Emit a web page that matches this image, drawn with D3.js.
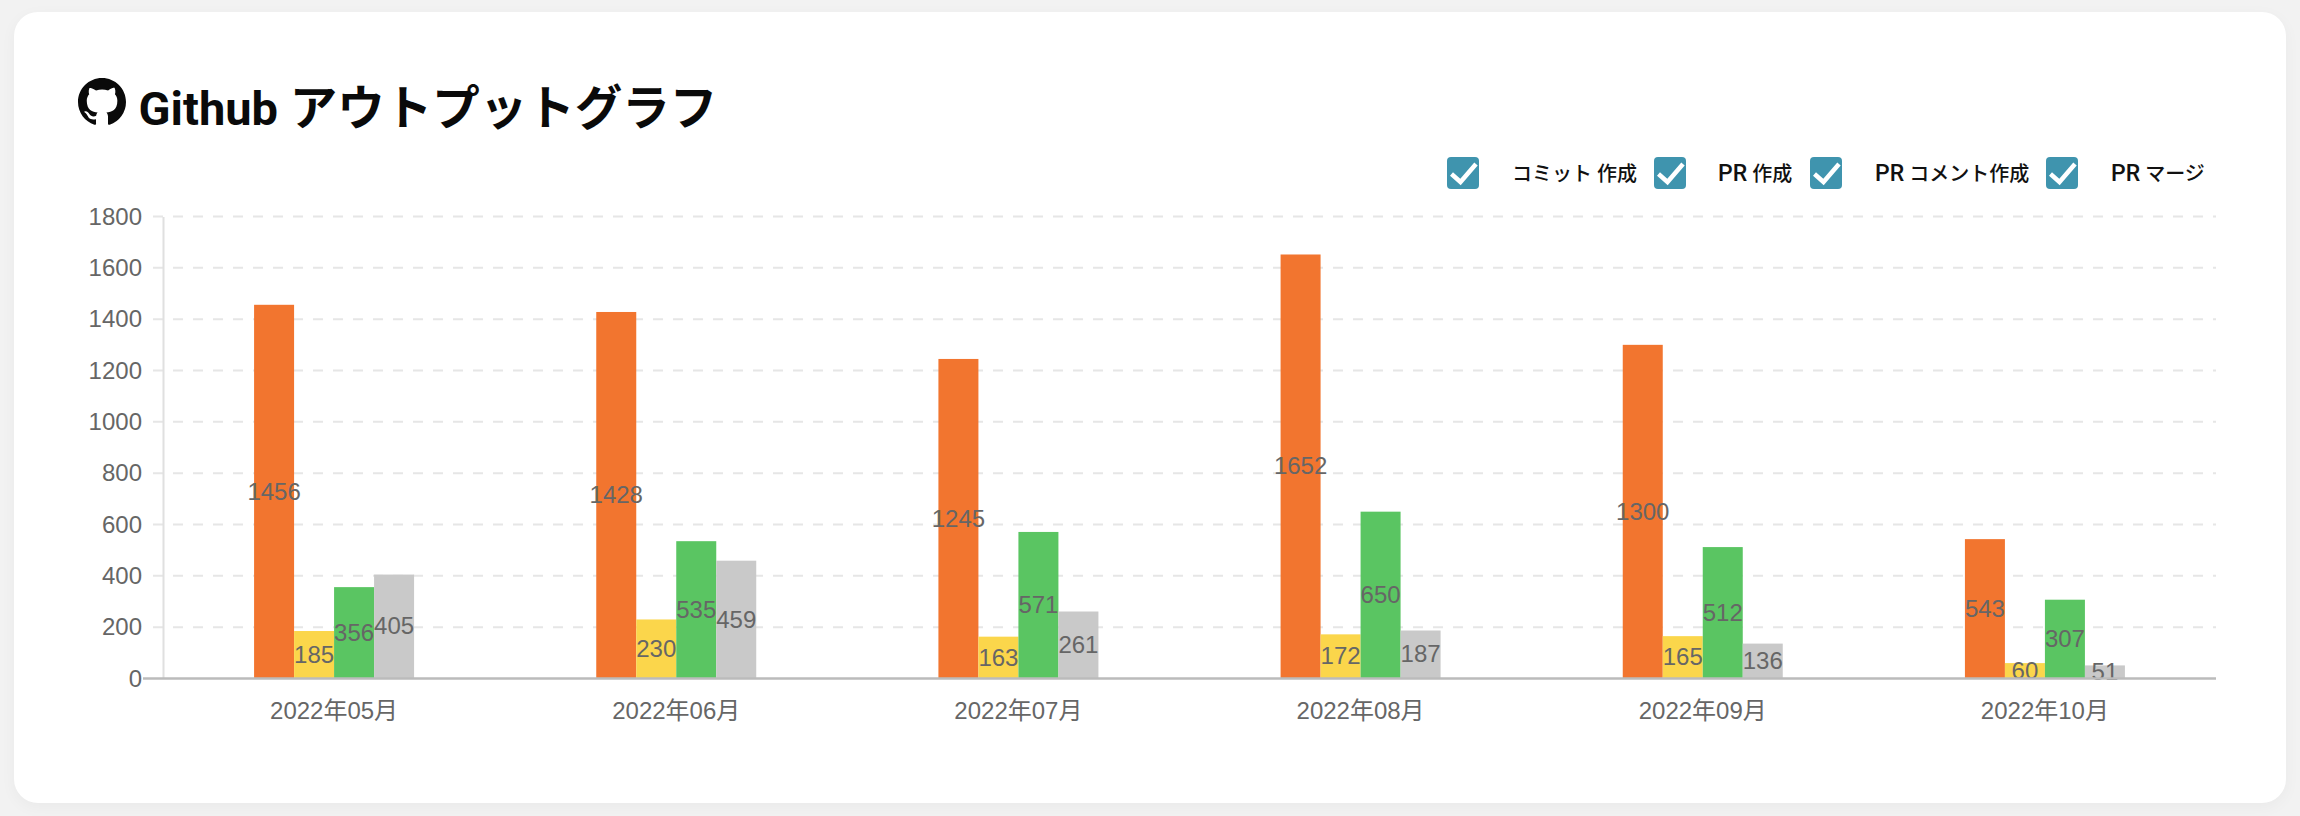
<!DOCTYPE html>
<html lang="ja">
<head>
<meta charset="utf-8">
<title>Github アウトプットグラフ</title>
<script src="https://cdn.jsdelivr.net/npm/d3@7/dist/d3.min.js"></script>
<style>
  html, body { margin: 0; padding: 0; width: 2300px; height: 816px; overflow: hidden; background: #f2f2f2; }
  #card { position: absolute; left: 14px; top: 12px; width: 2272px; height: 791px; background: #fff; border-radius: 24px; box-shadow: 0 4px 16px rgba(0,0,0,.04); }
  svg { position: absolute; left: 0; top: 0; }
  text { font-family: "Liberation Sans", "Noto Sans CJK JP", sans-serif; }
</style>
</head>
<body>
<div id="card"></div>
<svg id="chart" width="2300" height="816"></svg>
<script>
// Monthly GitHub activity, one list per series
const months = ["2022年05月", "2022年06月", "2022年07月", "2022年08月", "2022年09月", "2022年10月"];
const commits = [1456, 1428, 1245, 1652, 1300, 543];
const pullRequests = [185, 230, 163, 172, 165, 60];
const prComments = [356, 535, 571, 650, 512, 307];
const prMerges = [405, 459, 261, 187, 136, 51];
const yTicks = [0, 200, 400, 600, 800, 1000, 1200, 1400, 1600, 1800];
const seriesNames = ["コミット 作成", "PR 作成", "PR コメント作成", "PR マージ"];
const seriesColors = ["#f2752f", "#fbd64b", "#5ac562", "#c9c9c9"];
const seriesValues = [commits, pullRequests, prComments, prMerges];
const titleLatin = "Github";
const titleKana = " アウトプットグラフ";
const githubMark = "M8 0C3.58 0 0 3.58 0 8c0 3.54 2.29 6.53 5.47 7.59.4.07.55-.17.55-.38 0-.19-.01-.82-.01-1.49-2.01.37-2.53-.49-2.69-.94-.09-.23-.48-.94-.82-1.13-.28-.15-.68-.52-.01-.53.63-.01 1.08.58 1.23.82.72 1.21 1.87.87 2.33.66.07-.52.28-.87.51-1.07-1.78-.2-3.64-.89-3.64-3.95 0-.87.31-1.59.82-2.15-.08-.2-.36-1.02.08-2.12 0 0 .67-.21 2.2.82.64-.18 1.32-.27 2-.27.68 0 1.36.09 2 .27 1.53-1.04 2.2-.82 2.2-.82.44 1.1.16 1.92.08 2.12.51.56.82 1.27.82 2.15 0 3.07-1.87 3.75-3.65 3.95.29.25.54.73.54 1.48 0 1.07-.01 1.93-.01 2.2 0 .21.15.46.55.38A8.013 8.013 0 0016 8c0-4.42-3.58-8-8-8z";

const plot = { left: 163, right: 2216, top: 216.5, bottom: 678.5 };
const svg = d3.select("#chart");

const x = d3.scaleBand().domain(months).range([plot.left, plot.right]);
const barWidth = 40;
const inner = d3.scaleBand()
  .domain(d3.range(seriesNames.length))
  .range([-2 * barWidth, 2 * barWidth]);
const y = d3.scaleLinear().domain([0, 1800]).range([plot.bottom, plot.top]);

// Heading: icon and title
svg.append("path")
  .attr("d", githubMark)
  .attr("transform", "translate(78,78) scale(3)")
  .attr("fill", "#0a0a0a");
const title = svg.append("text")
  .attr("x", 138.5)
  .attr("y", 124.5)
  .attr("fill", "#0a0a0a")
  .style("font-family", 'Roboto, "Noto Sans CJK JP", sans-serif')
  .style("font-size", "47px")
  .style("font-weight", 700)
  .style("white-space", "pre");
title.append("tspan").text(titleLatin);
title.append("tspan").style("font-size", "47.5px").text(titleKana);

// Dashed grid; each line starts at the tick so the tick reads as its first dash
svg.append("g")
  .selectAll("line")
  .data(yTicks.filter(d => d !== 0))
  .join("line")
  .attr("x1", plot.left - 10)
  .attr("x2", plot.right)
  .attr("y1", d => y(d))
  .attr("y2", d => y(d))
  .attr("stroke", "#e6e6e6")
  .attr("stroke-width", 2)
  .attr("stroke-dasharray", "10 10");

// Vertical axis
const yAxis = svg.append("g")
  .attr("transform", `translate(${plot.left},0)`)
  .call(d3.axisLeft(y).tickValues(yTicks).tickFormat(d3.format("d")).tickSize(0).tickPadding(21));
yAxis.select(".domain").attr("stroke", "#e0e0e0").attr("stroke-width", 2);
yAxis.selectAll("text").attr("fill", "#666").style("font-size", "24px");

// Bars, one group per series
const groups = svg.append("g")
  .selectAll("g")
  .data(seriesValues)
  .join("g")
  .attr("fill", (d, i) => seriesColors[i]);
groups.selectAll("rect")
  .data((values, s) => values.map((v, m) => ({ v, m, s })))
  .join("rect")
  .attr("x", d => x(months[d.m]) + x.bandwidth() / 2 + inner(d.s))
  .attr("y", d => y(d.v))
  .attr("width", inner.bandwidth())
  .attr("height", d => y(0) - y(d.v));

// Baseline with its leading tick
svg.append("line")
  .attr("x1", plot.left - 20)
  .attr("x2", plot.right)
  .attr("y1", y(0))
  .attr("y2", y(0))
  .attr("stroke", "#bbb")
  .attr("stroke-width", 2.5);

// Value labels centred in each bar
groups.selectAll("text")
  .data((values, s) => values.map((v, m) => ({ v, m, s })))
  .join("text")
  .attr("x", d => x(months[d.m]) + x.bandwidth() / 2 + inner(d.s) + inner.bandwidth() / 2)
  .attr("y", d => (y(d.v) + y(0)) / 2)
  .attr("dy", "0.33em")
  .attr("text-anchor", "middle")
  .attr("fill", "#666")
  .style("font-size", "24px")
  .text(d => d.v);

// Month labels
const xAxis = svg.append("g")
  .attr("transform", `translate(0,${plot.bottom})`)
  .call(d3.axisBottom(x).tickSize(0).tickPadding(23));
xAxis.select(".domain").remove();
xAxis.selectAll("text").attr("fill", "#666").style("font-size", "24px");

// Legend of checked boxes; the Latin prefix runs larger than the kana
const legendBoxes = [1447, 1654, 1810, 2046];
const legendText = [1512, 1718, 1875, 2111];
const legend = svg.append("g")
  .selectAll("g")
  .data(seriesNames)
  .join("g");
legend.append("rect")
  .attr("x", (d, i) => legendBoxes[i])
  .attr("y", 157)
  .attr("width", 32)
  .attr("height", 32)
  .attr("rx", 4)
  .attr("fill", "#3f94ae");
legend.append("path")
  .attr("transform", (d, i) => `translate(${legendBoxes[i]},157)`)
  .attr("d", "M4.5 17 L13.5 25 L29 7")
  .attr("fill", "none")
  .attr("stroke", "#fff")
  .attr("stroke-width", 4.5);
const legendLabels = legend.append("text")
  .attr("x", (d, i) => legendText[i])
  .attr("y", 181)
  .attr("fill", "#111")
  .style("font-family", 'Roboto, "Noto Sans CJK JP", sans-serif')
  .style("font-size", "20px")
  .style("font-weight", 500)
  .style("white-space", "pre");
legendLabels.filter(d => d.startsWith("PR")).append("tspan")
  .style("font-size", "23px")
  .text("PR");
legendLabels.append("tspan")
  .text(d => d.startsWith("PR") ? d.slice(2) : d);
</script>
</body>
</html>
